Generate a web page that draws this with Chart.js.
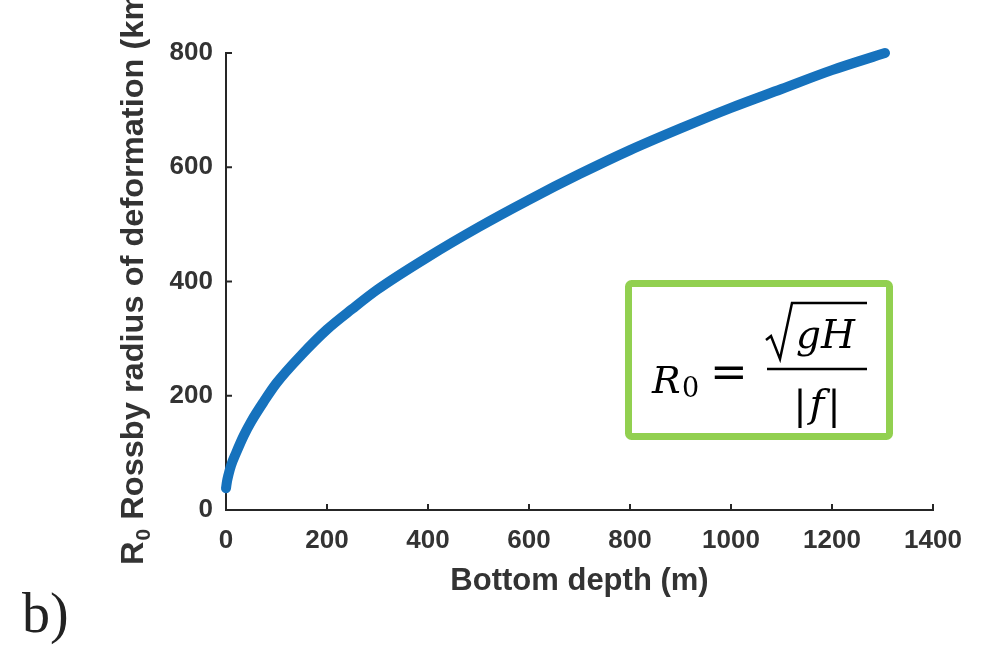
<!doctype html>
<html lang="en">
<head>
<meta charset="utf-8">
<title>Rossby radius of deformation</title>
<script src="https://cdn.jsdelivr.net/npm/chart.js"></script>
<style>
  html, body { margin: 0; padding: 0; background: #fff; }
  #rossby { display: block; }
</style>
</head>
<body>
<canvas id="rossby" width="994" height="646"></canvas>
<script>
// values
const depth = [0, 2, 5, 10, 20, 35, 50, 75, 100, 150, 200, 250, 300, 400, 500, 600, 700, 800, 900, 1000, 1100, 1200, 1305];
const radius = [38, 50, 62, 78, 100, 130, 155, 190, 222, 272, 316, 352, 386, 443, 495, 543, 588, 630, 668, 704, 737, 770, 800];
const xTicks = [0, 200, 400, 600, 800, 1000, 1200, 1400];
const yTicks = [0, 200, 400, 600, 800];

const axisColor = '#262626';
const textColor = '#333333';
const tickFont = { family: '"Liberation Sans", Arial, sans-serif', size: 26, weight: 'bold' };
const titleFont = { family: '"Liberation Sans", Arial, sans-serif', size: 31, weight: 'bold' };

// inward tick marks, y title, panel letter and the formula box
const extras = {
  id: 'extras',
  afterDraw(chart) {
    const ctx = chart.ctx;
    const xs = chart.scales.x, ys = chart.scales.y;
    const area = chart.chartArea;
    ctx.save();
    ctx.strokeStyle = axisColor;
    ctx.lineWidth = 2;
    xTicks.forEach(v => {
      const px = xs.getPixelForValue(v);
      ctx.beginPath(); ctx.moveTo(px, area.bottom); ctx.lineTo(px, area.bottom - 6); ctx.stroke();
    });
    yTicks.forEach(v => {
      const py = ys.getPixelForValue(v);
      ctx.beginPath(); ctx.moveTo(area.left, py); ctx.lineTo(area.left + 6, py); ctx.stroke();
    });

    // y axis title (runs off the top like the original)
    ctx.translate(143, 565);
    ctx.rotate(-Math.PI / 2);
    ctx.scale(1.05, 1);
    ctx.fillStyle = textColor;
    ctx.textBaseline = 'alphabetic';
    ctx.textAlign = 'left';
    ctx.font = 'bold 31px "Liberation Sans", Arial, sans-serif';
    ctx.fillText('R', 0, 0);
    let w = ctx.measureText('R').width;
    ctx.font = 'bold 20px "Liberation Sans", Arial, sans-serif';
    ctx.fillText('0', w + 1, 7);
    w += ctx.measureText('0').width + 1;
    ctx.font = 'bold 31px "Liberation Sans", Arial, sans-serif';
    ctx.fillText(' Rossby radius of deformation (km)', w, 0);
    ctx.restore();

    // panel letter
    ctx.save();
    ctx.fillStyle = '#222';
    ctx.font = '56px "Liberation Serif", "Times New Roman", serif';
    ctx.textBaseline = 'alphabetic';
    ctx.fillText('b)', 22, 632);
    ctx.restore();

    // formula box
    ctx.save();
    ctx.fillStyle = '#fff';
    ctx.strokeStyle = '#92D050';
    ctx.lineWidth = 7;
    ctx.beginPath();
    ctx.roundRect(628.5, 283.5, 261, 153, 3);
    ctx.fill();
    ctx.stroke();

    ctx.fillStyle = '#000';
    ctx.strokeStyle = '#000';
    ctx.textBaseline = 'alphabetic';
    ctx.font = 'italic 38px "DejaVu Serif", serif';
    ctx.fillText('R', 652, 393);
    ctx.font = '27px "DejaVu Serif", serif';
    ctx.fillText('0', 682, 397);
    ctx.font = '45px "DejaVu Serif", serif';
    ctx.fillText('=', 710, 387);

    ctx.lineWidth = 2.5;
    ctx.beginPath(); ctx.moveTo(767, 369); ctx.lineTo(867, 369); ctx.stroke();
    ctx.beginPath();
    ctx.moveTo(766, 340); ctx.lineTo(771, 336); ctx.lineTo(780, 359);
    ctx.lineTo(792, 303); ctx.lineTo(867, 303);
    ctx.stroke();
    ctx.font = 'italic 39px "DejaVu Serif", serif';
    ctx.fillText('gH', 796, 348);
    ctx.textAlign = 'center';
    ctx.font = '40px "DejaVu Serif", serif';
    ctx.fillText('|', 800, 419);
    ctx.fillText('|', 834, 419);
    ctx.font = 'italic 40px "DejaVu Serif", serif';
    ctx.fillText('f', 817, 417);
    ctx.restore();
  }
};

new Chart(document.getElementById('rossby'), {
  type: 'line',
  data: {
    datasets: [{
      data: depth.map((d, i) => ({ x: d, y: radius[i] })),
      borderColor: '#1672bd',
      borderWidth: 10,
      borderCapStyle: 'round',
      borderJoinStyle: 'round',
      cubicInterpolationMode: 'monotone',
      pointRadius: 0,
      fill: false,
      clip: 8
    }]
  },
  options: {
    responsive: false,
    animation: false,
    layout: { padding: { left: 0, right: 61, top: 53, bottom: 0 } },
    plugins: { legend: { display: false }, tooltip: { enabled: false } },
    scales: {
      x: {
        type: 'linear', min: 0, max: 1400,
        afterBuildTicks: s => { s.ticks = xTicks.map(v => ({ value: v })); },
        afterFit: s => { s.height = 136; },
        ticks: { font: tickFont, color: textColor, padding: 15, maxRotation: 0, callback: v => String(v) },
        grid: { display: false, drawTicks: false },
        border: { color: axisColor, width: 2 },
        title: { display: true, text: 'Bottom depth (m)', font: titleFont, color: textColor, padding: { top: 0, bottom: 46 } }
      },
      y: {
        min: 0, max: 800,
        afterBuildTicks: s => { s.ticks = yTicks.map(v => ({ value: v })); },
        afterFit: s => { s.width = 226; },
        ticks: { font: tickFont, color: textColor, padding: 13, callback: v => String(v) },
        grid: { display: false, drawTicks: false },
        border: { color: axisColor, width: 2 }
      }
    }
  },
  plugins: [extras]
});
</script>
</body>
</html>
